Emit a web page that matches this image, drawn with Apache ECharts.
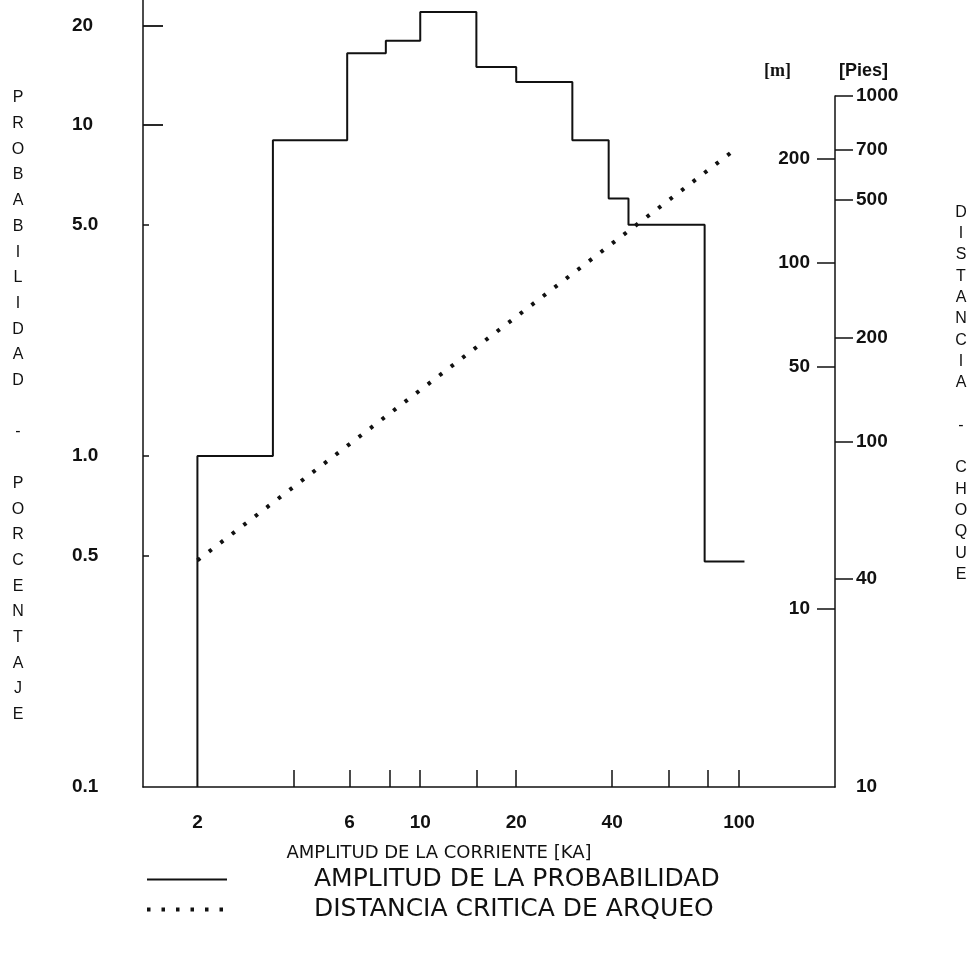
<!DOCTYPE html>
<html>
<head>
<meta charset="utf-8">
<script src="https://cdn.jsdelivr.net/npm/echarts@6/dist/echarts.min.js"></script>
<style>
  html, body { margin: 0; padding: 0; background: #fff; }
  #chart { width: 971px; height: 953px; }
</style>
</head>
<body>
<div id="chart"></div>
<script>
// histogram: amplitude bins (kA) and probability (%)
const currentEdges = [2, 3.45, 5.9, 7.8, 10, 15, 20, 30, 39, 45, 78, 104];
const probabilityPct = [1.0, 9, 16.5, 18, 22, 15, 13.5, 9, 6, 5, 0.48];

// critical arc distance (m) vs current (kA)
const arcCurrent = [2, 95];
const arcDistanceM = [13.8, 210];

// ticks and labels
const xTickValues = [4, 6, 8, 10, 15, 20, 40, 60, 80, 100];
const xLabelValues = [2, 6, 10, 20, 40, 100];
const leftLabelValues = [0.1, 0.5, 1, 5, 10, 20];
const leftLabelText = ['0.1', '0.5', '1.0', '5.0', '10', '20'];
const meterLabelValues = [10, 50, 100, 200];
const feetTickValues = [40, 100, 200, 500, 700, 1000];
const feetLabelValues = [10, 40, 100, 200, 500, 700, 1000];
const FT_PER_M = 3.2808;

const X_MIN = 1.35, X_MAX = 200;
const P_MIN = 0.1, P_MAX = 23.9;
const FT_MIN = 10, FT_MAX = 1000;

const INK = '#111';
const FONT = 'Liberation Sans';
const WIDE = 'DejaVu Sans';

// step line built from the bins
const histData = [[currentEdges[0], P_MIN]];
probabilityPct.forEach((v, i) => histData.push([currentEdges[i], v]));
histData.push([currentEdges[currentEdges.length - 1], probabilityPct[probabilityPct.length - 1]]);

const arcData = arcCurrent.map((c, i) => [c, arcDistanceM[i]]);

// vertical, one letter per line
const stack = (s) => s.split('').join('\n');

const numLabel = { color: INK, fontFamily: FONT, fontWeight: 'bold', fontSize: 19 };

const chart = echarts.init(document.getElementById('chart'));
chart.setOption({
  animation: false,
  backgroundColor: '#fff',
  grid: [
    { left: 143, right: 136, top: 0, bottom: 166 },
    { left: 143, right: 136, top: 96, bottom: 166 }
  ],
  legend: {
    orient: 'vertical',
    left: 140, top: 862,
    itemWidth: 80, itemHeight: 14, itemGap: 5,
    itemStyle: { opacity: 0 },
    lineStyle: { width: 'inherit' },
    textStyle: { color: INK, fontFamily: WIDE, fontSize: 25, padding: [0, 0, 0, 82] },
    data: ['AMPLITUD DE LA PROBABILIDAD', 'DISTANCIA CRITICA DE ARQUEO']
  },
  xAxis: [
    {
      type: 'log', gridIndex: 0, min: X_MIN, max: X_MAX,
      name: 'AMPLITUD DE LA CORRIENTE [KA]',
      nameLocation: 'middle', nameGap: 57,
      nameTextStyle: { color: INK, fontFamily: WIDE, fontSize: 18, padding: [0, 100, 0, 0] },
      axisLine: { lineStyle: { color: INK, width: 1.5 } },
      axisTick: { inside: true, length: 17, customValues: xTickValues, lineStyle: { color: INK, width: 1.5 } },
      axisLabel: Object.assign({ customValues: xLabelValues, margin: 26, formatter: v => String(v) }, numLabel),
      splitLine: { show: false },
      minorTick: { show: false }
    },
    {
      type: 'log', gridIndex: 1, min: X_MIN, max: X_MAX, show: false
    }
  ],
  yAxis: [
    {
      type: 'log', gridIndex: 0, min: P_MIN, max: P_MAX, position: 'left',
      name: '\n' + stack('PROBABILIDAD - PORCENTAJE'),
      nameLocation: 'middle', nameRotate: 0, nameGap: 125,
      nameTextStyle: { color: INK, fontFamily: FONT, fontSize: 16, lineHeight: 25.7, align: 'center' },
      axisLine: { lineStyle: { color: INK, width: 1.5 } },
      axisTick: { inside: true, length: 6, customValues: [0.5, 1, 5], lineStyle: { color: INK, width: 1.5 } },
      axisLabel: Object.assign({
        customValues: leftLabelValues, margin: 71, align: 'left',
        formatter: v => leftLabelText[leftLabelValues.findIndex(x => Math.abs(x - v) < 1e-9)] || String(v)
      }, numLabel),
      splitLine: { show: false },
      minorTick: { show: false }
    },
    {
      // longer ticks at 10 and 20
      type: 'log', gridIndex: 0, min: P_MIN, max: P_MAX, position: 'left',
      axisLine: { show: false },
      axisTick: { inside: true, length: 20, customValues: [10, 20], lineStyle: { color: INK, width: 1.8 } },
      axisLabel: { show: false },
      splitLine: { show: false }
    },
    {
      type: 'log', gridIndex: 1, min: FT_MIN / FT_PER_M, max: FT_MAX / FT_PER_M, position: 'right',
      name: '[m]', nameLocation: 'end', nameGap: 16,
      nameTextStyle: { color: INK, fontFamily: 'Liberation Serif', fontWeight: 'bold', fontSize: 18, align: 'right', padding: [0, 44, 0, 0] },
      axisLine: { lineStyle: { color: INK, width: 1.5 } },
      axisTick: { inside: true, length: 18, customValues: meterLabelValues, lineStyle: { color: INK, width: 1.5 } },
      axisLabel: Object.assign({ inside: true, customValues: meterLabelValues, margin: 25, formatter: v => String(Math.round(v)) }, numLabel),
      splitLine: { show: false },
      minorTick: { show: false }
    },
    {
      type: 'log', gridIndex: 1, min: FT_MIN, max: FT_MAX, position: 'right',
      name: '[Pies]', nameLocation: 'end', nameGap: 16,
      nameTextStyle: { color: INK, fontFamily: FONT, fontWeight: 'bold', fontSize: 18, align: 'left', padding: [0, 0, 0, 4] },
      axisLine: { show: false },
      axisTick: { length: 18, customValues: feetTickValues, lineStyle: { color: INK, width: 1.5 } },
      axisLabel: Object.assign({ customValues: feetLabelValues, margin: 21, formatter: v => String(Math.round(v)) }, numLabel),
      splitLine: { show: false },
      minorTick: { show: false }
    },
    {
      // carries only the right-hand title
      type: 'log', gridIndex: 0, min: P_MIN, max: P_MAX, position: 'right',
      name: stack('DISTANCIA - CHOQUE').replace('A\n-\nC', 'A\n \n-\n \nC'),
      nameLocation: 'middle', nameRotate: 0, nameGap: 126,
      nameTextStyle: { color: INK, fontFamily: FONT, fontSize: 16, lineHeight: 21.3, align: 'center' },
      axisLine: { show: false },
      axisTick: { show: false },
      axisLabel: { show: false },
      splitLine: { show: false }
    }
  ],
  series: [
    {
      name: 'AMPLITUD DE LA PROBABILIDAD',
      type: 'line', xAxisIndex: 0, yAxisIndex: 0,
      step: 'end', symbol: 'none',
      lineStyle: { color: INK, width: 2 },
      itemStyle: { color: INK },
      data: histData
    },
    {
      name: 'DISTANCIA CRITICA DE ARQUEO',
      type: 'line', xAxisIndex: 1, yAxisIndex: 2,
      symbol: 'none',
      lineStyle: { color: INK, width: 4, type: [3.5, 11] },
      itemStyle: { color: INK },
      data: arcData
    }
  ]
});
</script>
</body>
</html>
